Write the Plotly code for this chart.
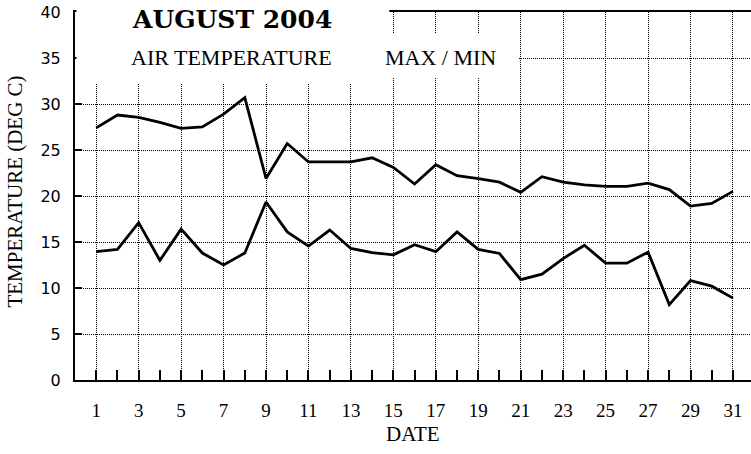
import plotly.graph_objects as go

days = list(range(1, 32))
max_temp = [27.4, 28.8, 28.55, 28.0, 27.35, 27.5, 28.9, 30.7, 21.9, 25.7,
            23.7, 23.7, 23.7, 24.15, 23.1, 21.3, 23.4, 22.2, 21.9, 21.5,
            20.4, 22.1, 21.5, 21.2, 21.05, 21.05, 21.4, 20.7, 18.9, 19.2, 20.5]
min_temp = [13.95, 14.2, 17.1, 13.0, 16.4, 13.8, 12.5, 13.8, 19.35, 16.1,
            14.55, 16.3, 14.3, 13.85, 13.6, 14.7, 13.95, 16.1, 14.2, 13.75,
            10.9, 11.5, 13.2, 14.65, 12.7, 12.7, 13.9, 8.2, 10.8, 10.2, 8.9]
x_tickvals = list(range(1, 32, 2))
y_tickvals = list(range(0, 41, 5))

W, H = 751, 454
L, R, T, B = 74.5, 0, 12, 74
pw, ph = W - L - R, H - T - B


def px(x):
    return (x - L) / pw


def py(y):
    return (H - B - y) / ph


fig = go.Figure()
for series in (max_temp, min_temp):
    fig.add_trace(go.Scatter(x=days, y=series, mode="lines",
                             line=dict(color="black", width=2.8),
                             showlegend=False, hoverinfo="skip"))

grid_dash = "1px,1px"
fig.update_xaxes(range=[0, 31.85], tickvals=x_tickvals,
                 ticktext=[str(v) for v in x_tickvals],
                 ticks="inside", ticklen=10, tickwidth=2, tickcolor="black",
                 minor=dict(ticks="inside", ticklen=10, tickwidth=2, tickcolor="black",
                            dtick=1, tick0=0, showgrid=False),
                 showgrid=True, gridcolor="black", gridwidth=1, griddash=grid_dash,
                 showline=True, linecolor="black", linewidth=2, mirror=True,
                 zeroline=False, ticklabelstandoff=12, automargin=False,
                 tickfont=dict(family="Liberation Serif", size=19, color="black"))
fig.update_yaxes(range=[0, 40], tickvals=y_tickvals,
                 ticks="inside", ticklen=7, tickwidth=2, tickcolor="black",
                 showgrid=True, gridcolor="black", gridwidth=1, griddash=grid_dash,
                 showline=True, linecolor="black", linewidth=2,
                 zeroline=False, ticklabelstandoff=9, automargin=False,
                 tickfont=dict(family="DejaVu Sans", size=16, color="black"))

shapes = [
    dict(type="rect", xref="paper", yref="paper", layer="above",
         x0=px(76), x1=px(389), y0=py(83), y1=py(-5),
         fillcolor="white", line=dict(width=0)),
    dict(type="rect", xref="paper", yref="paper", layer="above",
         x0=px(388), x1=px(518), y0=py(78), y1=py(33),
         fillcolor="white", line=dict(width=0)),
]

annotations = [
    dict(text="<b>AUGUST 2004</b>", x=px(232), y=py(20), xref="paper", yref="paper",
         showarrow=False, xanchor="center", yanchor="middle",
         font=dict(family="DejaVu Serif", size=25, color="black")),
    dict(text="AIR TEMPERATURE", x=px(231), y=py(57), xref="paper", yref="paper",
         showarrow=False, xanchor="center", yanchor="middle",
         font=dict(family="Liberation Serif", size=22, color="black")),
    dict(text="MAX / MIN", x=px(440), y=py(57), xref="paper", yref="paper",
         showarrow=False, xanchor="center", yanchor="middle",
         font=dict(family="Liberation Serif", size=22, color="black")),
    dict(text="TEMPERATURE (DEG C)", x=px(14), y=py(192), xref="paper", yref="paper",
         showarrow=False, xanchor="center", yanchor="middle", textangle=-90,
         font=dict(family="Liberation Serif", size=21, color="black")),
    dict(text="DATE", x=px(413), y=py(434), xref="paper", yref="paper",
         showarrow=False, xanchor="center", yanchor="middle",
         font=dict(family="Liberation Serif", size=21, color="black")),
]

fig.update_layout(width=W, height=H, margin=dict(l=L, r=R, t=T, b=B),
                  paper_bgcolor="white", plot_bgcolor="white",
                  shapes=shapes, annotations=annotations, showlegend=False)

fig.write_html("out.html", config={"displayModeBar": False, "staticPlot": True},
               post_script="document.body.style.margin='0';document.body.style.overflow='hidden';")
